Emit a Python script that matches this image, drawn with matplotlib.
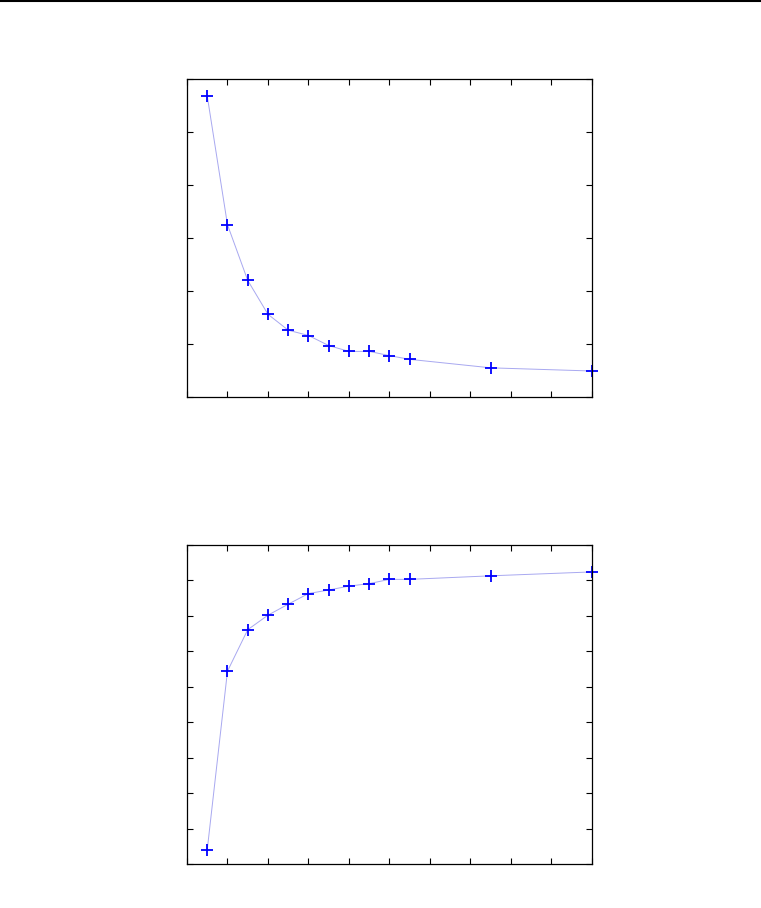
import matplotlib
matplotlib.use("Agg")
import matplotlib.pyplot as plt
from matplotlib.lines import Line2D

# data
x_vals = [2.5, 5, 7.5, 10, 12.5, 15, 17.5, 20, 22.5, 25, 27.5, 37.5, 50]
top_vals = [5.68, 3.25, 2.20, 1.56, 1.26, 1.16, 0.97, 0.86, 0.86, 0.78, 0.71, 0.55, 0.49]
bottom_vals = [0.40, 5.44, 6.61, 7.02, 7.33, 7.63, 7.73, 7.84, 7.91, 8.03, 8.03, 8.13, 8.24]
x_ticks = [0, 5, 10, 15, 20, 25, 30, 35, 40, 45, 50]
top_yticks = [0, 1, 2, 3, 4, 5, 6]
bottom_yticks = [0, 1, 2, 3, 4, 5, 6, 7, 8, 9]

LINE_COLOR = "#a8a8f0"
MARK_COLOR = "#0000ff"


def fill_ax(ax, y, yticks):
    ax.plot(x_vals, y, color=LINE_COLOR, lw=0.7, zorder=1)
    ax.plot(x_vals, y, ls="none", marker="+", ms=9, mew=1.3, color=MARK_COLOR,
            zorder=2, clip_on=False)
    ax.set_xlim(x_ticks[0], x_ticks[-1])
    ax.set_ylim(yticks[0], yticks[-1])
    ax.set_xticks(x_ticks)
    ax.set_yticks(yticks)
    ax.tick_params(direction="in", length=4, width=0.8, top=True, right=True,
                   labelbottom=False, labelleft=False)
    for sp in ax.spines.values():
        sp.set_linewidth(0.9)


fig = plt.figure(figsize=(7.61, 9.08), dpi=100)
ax_top = fig.add_axes([0.2457, 0.5628, 0.5322, 0.3502])
ax_bot = fig.add_axes([0.2457, 0.0485, 0.5322, 0.3513])
fill_ax(ax_top, top_vals, top_yticks)
fill_ax(ax_bot, bottom_vals, bottom_yticks)

# page rule at the very top
fig.add_artist(Line2D([0, 1], [0.9985, 0.9985], color="black", lw=1.5,
                      transform=fig.transFigure))

fig.savefig("out.png", dpi=100)
